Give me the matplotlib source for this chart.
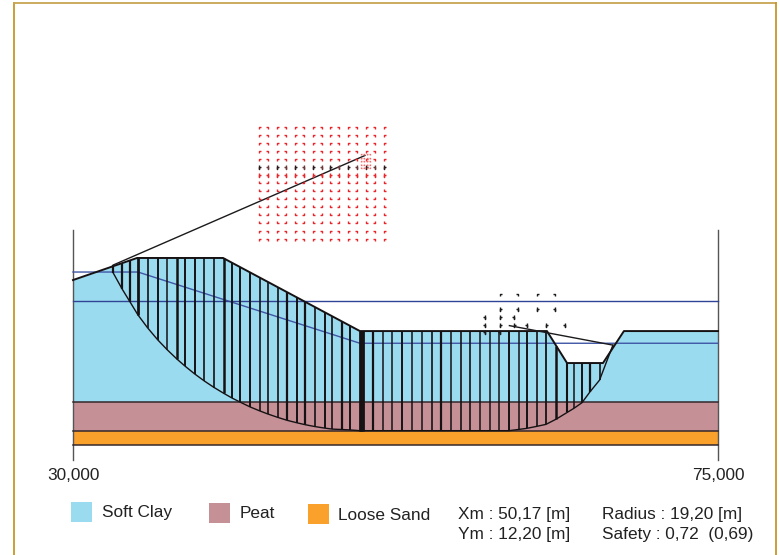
#!/usr/bin/env python3

import matplotlib
matplotlib.use('Agg')
import matplotlib.pyplot as plt
import numpy as np
from matplotlib.patches import Rectangle
from matplotlib.path import Path

plt.rcParams['font.family'] = ['Liberation Sans', 'DejaVu Sans']

# ground profile, metres
surface_x = [30.0, 34.47, 40.47, 50.02, 63.07, 64.47, 66.98, 68.44, 75.0]
surface_y = [11.51, 13.05, 13.05, 7.95, 7.95, 5.72, 5.72, 7.95, 7.95]
peat_top = 3.0
sand_top = 1.0
sand_bottom = 0.0

phreatic_x = [30.0, 34.53, 50.02, 75.0]
phreatic_y = [12.07, 12.07, 7.1, 7.1]
water_level = 10.03

# slice boundaries and slip surface
slice_x = [32.81, 33.42, 34.00, 34.53, 35.21, 35.91, 36.58, 37.26, 37.81, 38.49,
           39.16, 39.85, 40.53, 41.11, 41.67, 42.35, 43.03, 43.58, 44.28, 44.95,
           45.63, 46.19, 46.86, 47.56, 48.09, 48.79, 49.35, 50.02, 50.12, 50.23,
           50.93, 51.61, 52.28, 52.98, 53.65, 54.33, 55.03, 55.70, 56.37, 57.05,
           57.72, 58.40, 59.07, 59.74, 60.42, 61.12, 61.65, 62.35, 63.00, 63.72,
           64.49, 64.95, 65.51, 66.08, 66.74]
slip_y = [12.0, 10.9, 9.95, 9.08, 8.17, 7.34, 6.64, 5.99, 5.51, 4.96,
          4.47, 4.01, 3.60, 3.27, 2.99, 2.66, 2.38, 2.17, 1.93, 1.72,
          1.55, 1.42, 1.29, 1.18, 1.11, 1.08, 1.05, 1.0, 1.0, 1.0,
          1.0, 1.0, 1.0, 1.0, 1.0, 1.0, 1.0, 1.0, 1.0, 1.0,
          1.0, 1.0, 1.0, 1.0, 1.0, 1.09, 1.16, 1.30, 1.44, 1.81,
          2.28, 2.56, 2.95, 3.72, 4.53]
slice_lw = [1.6, 1.6, 1.6, 2.0, 1.2, 1.4, 1.1, 1.8, 1.4, 1.4,
            1.2, 1.2, 1.8, 1.4, 1.4, 1.4, 1.2, 1.2, 1.2, 1.6,
            1.4, 1.6, 1.2, 1.4, 1.2, 1.6, 1.4, 2.0, 2.0, 2.0,
            1.6, 1.1, 1.1, 1.4, 1.1, 1.1, 1.2, 1.6, 1.1, 1.2,
            1.2, 1.1, 1.1, 1.1, 1.4, 1.1, 1.4, 1.2, 1.3, 1.8,
            1.5, 1.1, 1.4, 1.6, 1.2]
slip_left = (32.81, 12.56)
slip_right = (67.67, 6.97)
centre = (50.37, 20.2)
centre2 = (60.45, 8.33)

# search grids
grid_x = [43.0, 43.62, 44.24, 44.86, 45.48, 46.1, 46.72, 47.34, 47.96, 48.58,
          49.2, 49.82, 50.44, 51.06, 51.68]
grid_y = [22.17, 21.62, 21.06, 20.5, 19.95, 19.39, 18.83, 18.28, 17.72, 17.16,
          16.61, 16.05, 15.49, 14.94, 14.38]
grid_rows = ['T', 'T', 'T', 'T', 'T', 'K', 'M', 'B', 'B', 'B', 'B', 'B', 'B', 'T', 'T']
inner_x = [50.12, 50.33, 50.54, 50.75]
inner_y = [20.3, 20.05, 19.8, 19.55, 19.3]
coarse_x = [59.77, 61.03, 62.37, 63.65, 59.77, 61.03, 62.37, 63.65,
            58.77, 59.77, 60.75, 58.77, 59.77, 60.75, 61.65, 63.0, 64.3,
            58.77, 59.77]
coarse_y = [10.53, 10.53, 10.53, 10.53, 9.46, 9.46, 9.46, 9.46,
            8.95, 8.95, 8.95, 8.37, 8.37, 8.37, 8.37, 8.37, 8.37,
            7.88, 7.88]
coarse_kind = ['TL', 'TR', 'TL', 'TR', 'ML', 'MR', 'ML', 'MR',
               'MR', 'ML', 'MR', 'MR', 'ML', 'ML', 'MR', 'ML', 'MR',
               'MR', 'MR']

legend_names = ['Soft Clay', 'Peat', 'Loose Sand']
legend_colors = ['#9adbf0', '#c69196', '#f9a12b']
xtick_values = [30, 75]
xtick_labels = ['30,000', '75,000']

CORNER = {'TL': [(0, -1), (0, 0), (1, 0)], 'TR': [(-1, 0), (0, 0), (0, -1)],
          'BL': [(0, 1), (0, 0), (1, 0)], 'BR': [(-1, 0), (0, 0), (0, 1)],
          'ML': [(0, 1), (0, -1), (0, 0), (1, 0)], 'MR': [(0, 1), (0, -1), (0, 0), (-1, 0)]}


def corner(name):
    pts = CORNER[name]
    return Path(pts, [Path.MOVETO] + [Path.LINETO] * (len(pts) - 1))


def stamp(x, y, name, color, ms=3):
    ax.plot(x, y, ls='none', marker=corner(name), ms=ms, mfc='none', mec=color, mew=1.0, zorder=6)


fig = plt.figure(figsize=(7.8, 5.55), dpi=100)
ax = fig.add_axes([0, 0, 1, 1], frameon=False)
ax.set_xlim(24.907, 79.33)
ax.set_ylim(-7.674, 31.05)
ax.axis('off')

# soil layers
ax.fill_between(surface_x, peat_top, surface_y, color=legend_colors[0], lw=0, zorder=1)
ax.fill_between([30, 75], sand_top, peat_top, color=legend_colors[1], lw=0, zorder=1)
ax.fill_between([30, 75], sand_bottom, sand_top, color=legend_colors[2], lw=0, zorder=1)
for level in [peat_top, sand_top, sand_bottom]:
    ax.plot([30, 75], [level, level], color='#33282c', lw=1.1, zorder=3)

# side axes
for x in xtick_values:
    ax.plot([x, x], [15, -1.05], color='#555555', lw=1.0, zorder=2)

# water
ax.plot(phreatic_x, phreatic_y, color='#3f55a5', lw=1.0, zorder=3)
ax.plot([30, 75], [water_level, water_level], color='#2f4494', lw=1.0, zorder=3)

# slices
slice_top = np.interp(slice_x, surface_x, surface_y)
slice_top[0] = slip_left[1]
ax.vlines(slice_x, slip_y, slice_top, color='#161214', lw=slice_lw, zorder=4)
ax.plot(surface_x, surface_y, color='#161214', lw=1.4, zorder=5)
ax.plot(slice_x + [slip_right[0]], slip_y + [slip_right[1]], color='#161214', lw=1.0, zorder=5)

# radius lines
ax.plot([slip_left[0], centre[0]], [slip_left[1], centre[1]], color='#1c1a1c', lw=1.0, zorder=6)
ax.plot([centre2[0], slip_right[0]], [centre2[1], slip_right[1]], color='#1c1a1c', lw=1.0, zorder=6)

# search grid
for j, row in enumerate(grid_rows):
    for i, x in enumerate(grid_x):
        side = 'L' if i % 2 == 0 else 'R'
        key = {'T': 'T' + side, 'B': 'B' + side, 'M': 'M' + side, 'K': 'M' + side}[row]
        color = '#e8262c'
        if row == 'K':
            color = '#2a1a1c' if i % 2 == 0 else '#6a3a3c'
        stamp(x, grid_y[j], key, color)
for j, y in enumerate(inner_y):
    for i, x in enumerate(inner_x):
        stamp(x, y, ('T' if j < 3 else 'B') + ('L' if i % 2 == 0 else 'R'), '#f07070', ms=2)

# coarse grid, black
for x, y, kind in zip(coarse_x, coarse_y, coarse_kind):
    stamp(x, y, kind, '#1c1a1c')

# frame
fig.add_artist(plt.Line2D([14 / 780, 14 / 780], [0, 1 - 3 / 555], color='#c8962a', lw=1.3))
fig.add_artist(plt.Line2D([14 / 780, 776 / 780], [1 - 3 / 555, 1 - 3 / 555], color='#c8a550', lw=1.3))
fig.add_artist(plt.Line2D([776 / 780, 776 / 780], [0, 1 - 3 / 555], color='#c8962a', lw=1.3))

# labels
for x, label in zip(xtick_values, xtick_labels):
    ax.text(x, -2.1, label, ha='center', va='center', fontsize=12.4, color='#222222')

swatch_px = [(70.5, 502), (209, 503), (307.5, 504)]
label_px = [(101.5, 513), (240, 514), (338.5, 515)]
for name, color, (sx, sy), (lx, ly) in zip(legend_names, legend_colors, swatch_px, label_px):
    fig.add_artist(Rectangle((sx / 780, 1 - (sy + 20) / 555), 21 / 780, 20 / 555,
                             transform=fig.transFigure, fc=color, ec='none'))
    fig.text(lx / 780, 1 - ly / 555, name, ha='left', va='center', fontsize=12.4, color='#222222')

info = [(458, 514, 'Xm : 50,17 [m]'), (458, 535, 'Ym : 12,20 [m]'),
        (602, 514, 'Radius : 19,20 [m]'), (602, 535, 'Safety : 0,72  (0,69)')]
for x, y, s in info:
    fig.text(x / 780, 1 - y / 555, s, ha='left', va='center', fontsize=12.4, color='#222222')

fig.savefig('out.png', dpi=100)
